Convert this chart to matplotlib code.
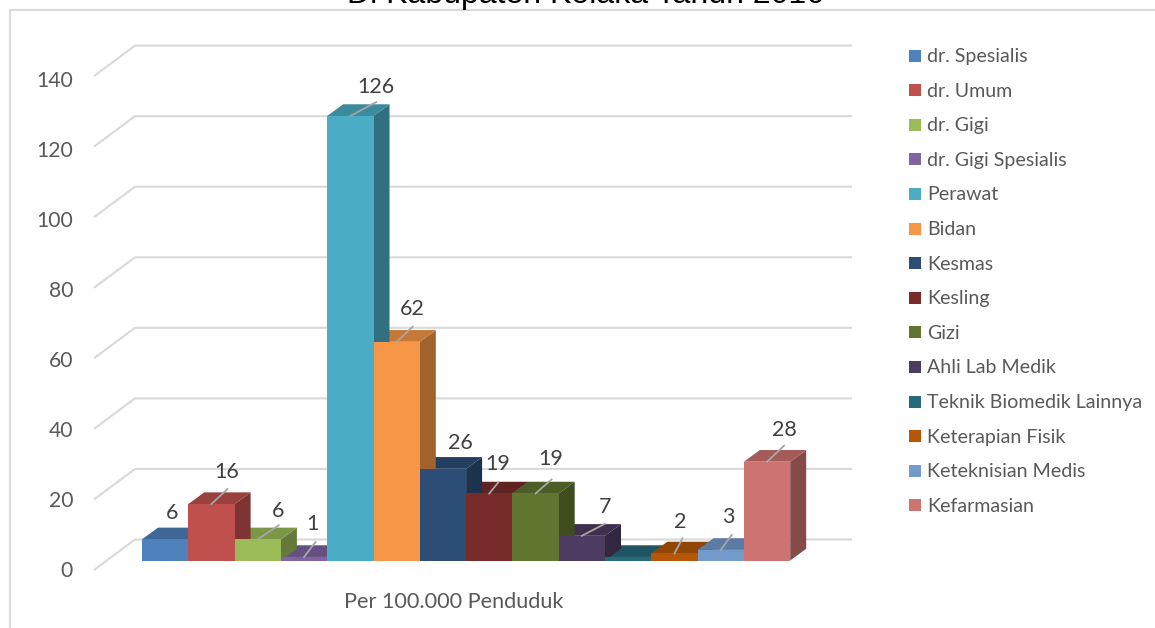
import matplotlib

matplotlib.use("Agg")
import matplotlib.pyplot as plt
from matplotlib.patches import Polygon, Rectangle

plt.rcParams['font.family'] = ['Lato', 'DejaVu Sans']

# data
categories = ['dr. Spesialis', 'dr. Umum', 'dr. Gigi', 'dr. Gigi Spesialis', 'Perawat', 'Bidan', 'Kesmas',
              'Kesling', 'Gizi', 'Ahli Lab Medik', 'Teknik Biomedik Lainnya', 'Keterapian Fisik',
              'Keteknisian Medis', 'Kefarmasian']
values = [6, 16, 6, 1, 126, 62, 26, 19, 19, 7, 1, 2, 3, 28]
show_label = [True, True, True, True, True, True, True, True, True, True, False, True, True, True]
y_ticks = [0, 20, 40, 60, 80, 100, 120, 140]
x_label = 'Per 100.000 Penduduk'
title = 'Di Kabupaten Kolaka Tahun 2016'

colors = ['#4f81bd', '#c0504d', '#9bbb59', '#8064a2', '#4bacc6', '#f79646', '#2c4d75', '#772c2a', '#5f7530',
          '#4d3b62', '#276a7c', '#b65708', '#729aca', '#cd7371']

W, H = 1155, 628
BAR_W = 46.3  # px per bar
PX_UNIT = 3.528  # px per value unit
X0, Y0 = 142, 560.5  # front lower left corner of first bar
DX, DY = 16, 11.7  # bar depth

# leader line end and label centre, offset in px from the bar's top front centre
leaders = [None, (16, -15), (21, -14), (11.5, -15), (26, -14), (16, -15), None, (9, -11), (16, -14), (23, -12),
           None, (8, -15), (11, -15), (17, -16)]
label_off = [(7, -26), (15, -32), (20, -28), (8, -33), (26, -29), (16, -33), (17, -26), (8, -29), (15, -34),
             (23, -29), None, (6, -31), (8, -33), (17, -32)]


def shade(c, f):
    rgb = matplotlib.colors.to_rgb(c)
    return tuple(v * f for v in rgb)


fig = plt.figure(figsize=(W / 100, H / 100), dpi=100)
ax = fig.add_axes([0, 0, 1, 1])
ax.set_xlim(-X0 / BAR_W, (W - X0) / BAR_W)
ax.set_ylim(-(H - Y0) / PX_UNIT, Y0 / PX_UNIT)
ax.axis('off')

dx = DX / BAR_W
dy = DY / PX_UNIT
px = 1 / BAR_W
py = 1 / PX_UNIT

# chart border, open to the right and at the bottom
ax.plot([-X0 / BAR_W + 9.5 * px, -X0 / BAR_W + 9.5 * px, 50], [-100, Y0 / PX_UNIT - 10 * py, Y0 / PX_UNIT - 10 * py],
        color='#d9d9d9', lw=1.5, zorder=1)

# walls
for t in y_ticks:
    back_x = -X0 / BAR_W + 135 * px
    front_x = -X0 / BAR_W + 94 * px
    ax.plot([front_x, back_x, (852 - X0) / BAR_W], [t - 9.5 * py, t + 21 * py, t + 21 * py],
            color='#d9d9d9', lw=1.5, zorder=1, solid_capstyle='butt')
    ax.text(-X0 / BAR_W + 73 * px, (Y0 - 571 + 3.5 * t) * py, str(t), ha='right', va='center', fontsize=15.2,
            color='#595959')

# bars, shortest first so that a taller bar covers the faces of a shorter neighbour
for i in sorted(range(len(values)), key=lambda k: values[k]):
    v = values[i]
    c = colors[i]
    ax.add_patch(Polygon([(i + 1, 0), (i + 1 + dx, dy), (i + 1 + dx, v + dy), (i + 1, v)],
                         facecolor=shade(c, 0.65), edgecolor='none', zorder=3))
    ax.add_patch(Polygon([(i, v), (i + dx, v + dy), (i + 1 + dx, v + dy), (i + 1, v)],
                         facecolor=shade(c, 0.8), edgecolor='none', zorder=3))
ax.bar(range(len(values)), values, width=1, align='edge', color=colors, zorder=4)

# data labels
for i, v in enumerate(values):
    if not show_label[i]:
        continue
    cx = i + 0.5
    if leaders[i] is not None:
        ax.plot([cx, cx + leaders[i][0] * px], [v, v - leaders[i][1] * py], color='#a6a6a6', lw=1.3, zorder=5)
    ax.text(cx + label_off[i][0] * px, v - label_off[i][1] * py, str(v), ha='center', va='center',
            fontsize=15.5, color='#404040', zorder=6)

ax.text((453.5 - X0) * px, -(602 - Y0) * py, x_label, ha='center', va='center', fontsize=15.6, color='#595959')

# legend
for i, name in enumerate(categories):
    ly = 55.5 + i * 34.6
    ax.add_patch(Rectangle(((909 - X0) * px, (Y0 - ly - 6) * py), 12 * px, 12 * py, facecolor=colors[i],
                           edgecolor='none'))
    ax.text((927 - X0) * px, (Y0 - ly - 1) * py, name, ha='left', va='center', fontsize=14.1, color='#595959')

# title is cut by the top of the image
fig.text(585.5 / W, 1 - 3 / H, title, ha='center', va='baseline', fontsize=23, color='black',
         family='Liberation Sans')

fig.savefig('out.png', dpi=100)
